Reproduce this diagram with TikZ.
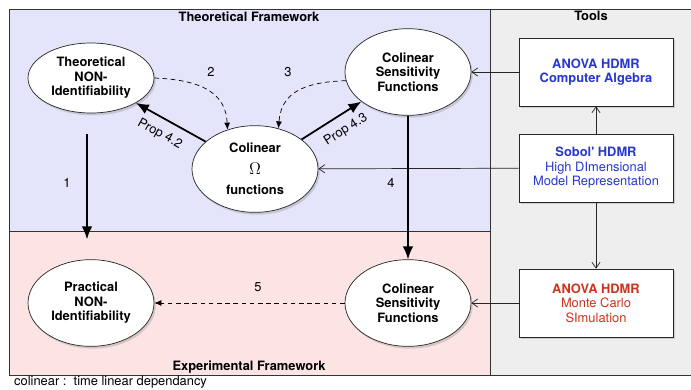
\documentclass[tikz,border=0pt]{standalone}
\usepackage{fontspec}
\setmainfont{TeX Gyre Heros}
\usetikzlibrary{shapes.geometric,shadows,arrows.meta}

\definecolor{theobg}{RGB}{228,228,251}
\definecolor{expbg}{RGB}{253,228,228}
\definecolor{toolbg}{RGB}{238,238,238}
\definecolor{tblue}{RGB}{40,56,205}
\definecolor{tred}{RGB}{205,50,30}

\begin{document}
\begin{tikzpicture}[x=0.03cm, y=-0.03cm, font=\fontsize{11}{12.4}\selectfont]
  \useasboundingbox (0,0) rectangle (691,390);

  % Felder.
  \fill[theobg] (9,9) rectangle (490,231);
  \fill[expbg] (9,231) rectangle (490,375);
  \fill[toolbg] (490,9) rectangle (695,375);
  \draw[color=black!80] (9,9) rectangle (695,375);
  \draw[color=black!80] (9,231) -- (490,231);
  \draw[color=black!80] (490,9) -- (490,375);

  % Ueberschriften.
  \node[font=\fontsize{11}{12.4}\selectfont\bfseries] (tf) at (249,17) {Theoretical Framework};
  \node[font=\fontsize{11}{12.4}\selectfont\bfseries] (to) at (591,16) {Tools};
  \node[font=\fontsize{11}{12.4}\selectfont\bfseries] (ef) at (249,367) {Experimental Framework};
  \node[anchor=west, inner sep=0pt] (fn) at (14,382) {colinear :\ \ time linear dependancy};

  % Knoten.
  \tikzstyle{blob}=[ellipse, draw=black!85, line width=0.6pt, fill=white, minimum width=3.78cm,
    minimum height=2.6cm, inner sep=0pt, align=center, font=\fontsize{11}{12.4}\selectfont\bfseries,
    drop shadow={shadow xshift=1.5pt, shadow yshift=-2pt, opacity=0.3}]
  \tikzstyle{tool}=[rectangle, draw=black!85, line width=0.6pt, fill=white, minimum width=4.62cm,
    minimum height=2.04cm, inner sep=0pt, align=center,
    drop shadow={shadow xshift=1.5pt, shadow yshift=-2pt, opacity=0.3}]

  \node[blob, minimum height=2.1cm] (tni) at (91,78) {Theoretical\\NON-\\Identifiability};
  \node[blob] (om) at (255,169) {Colinear\\[6pt]{\Large$\Omega$}\\[5pt]functions};
  \node[blob] (csf) at (408,72) {Colinear\\Sensitivity\\Functions};
  \node[blob] (pni) at (91,303) {Practical\\NON-\\Identifiability};
  \node[blob] (csfe) at (408,303) {Colinear\\Sensitivity\\Functions};

  \node[tool, text=tblue] (aca) at (596,72) {\textbf{ANOVA HDMR}\\\textbf{Computer Algebra}};
  \node[tool, text=tblue] (sob) at (596,168) {\textbf{Sobol\textquotesingle{} HDMR}\\High DImensional\\Model Representation};
  \node[tool, text=tred] (amc) at (596,303) {\textbf{ANOVA HDMR}\\Monte Carlo\\SImulation};

  % Pfeile.
  \tikzstyle{strong}=[-{Latex[length=11pt,width=9pt]}, line width=1.5pt]
  \tikzstyle{hint}=[-{Latex[length=6pt,width=5pt]}, line width=0.6pt, dash pattern=on 4pt off 3pt]
  \tikzstyle{feed}=[-{Straight Barb[length=5pt,width=7pt]}, line width=0.6pt, color=black!85]

  \draw[feed] (sob) -- (om);
  \draw[feed] (aca) -- (csf);
  \draw[feed] (sob) -- (aca);
  \draw[feed] (sob) -- (amc);
  \draw[feed] (amc) -- (csfe);

  \draw[strong, shorten <=0.63cm, shorten >=0.6cm] ([xshift=-0.12cm]tni.south) -- ([xshift=-0.12cm]pni.north);
  \draw[strong] (csf) -- (csfe);
  \draw[strong] (om) -- (tni) node[pos=0.55, sloped, below=4pt] {Prop 4.2};
  \draw[strong] (om) -- (csf) node[pos=0.6, sloped, below=4pt] {Prop 4.3};

  \draw[hint] (tni.east) .. controls (205,80) and (226,95) .. (om.125);
  \draw[hint] (csf.188) .. controls (300,82) and (281,95) .. (om.60);
  \draw[hint] (csfe) -- (pni);

  % Nummern.
  \node (n1) at (67,183) {1};
  \node (n2) at (211,72) {2};
  \node (n3) at (288,72) {3};
  \node (n4) at (391,183) {4};
  \node (n5) at (258,287) {5};
\end{tikzpicture}
\end{document}
